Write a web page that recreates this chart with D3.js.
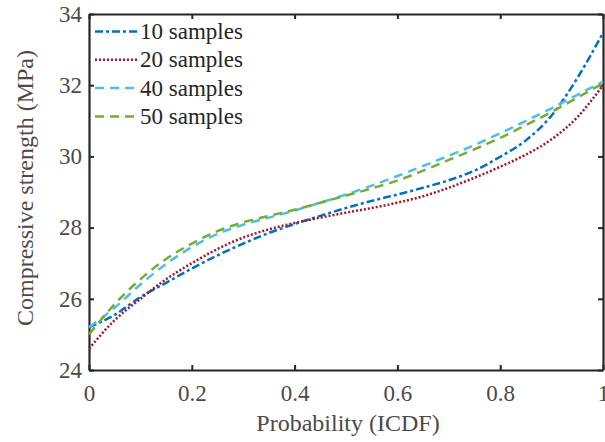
<!DOCTYPE html>
<html lang="en">
	<head>
		<meta charset="utf-8">
		<title>Compressive strength ICDF</title>
		<script src="https://cdn.jsdelivr.net/npm/d3@7/dist/d3.min.js"></script>
		<style>
			body { margin: 0; background: #fff; }
			svg text { font-family: "Liberation Serif", "Times New Roman", serif !important; }
		</style>
	</head>
	<body>
		<script type="text/javascript">

		// probability points (ICDF)
		var probs = [0, 0.05, 0.1, 0.15, 0.2, 0.25, 0.3, 0.35, 0.4, 0.45, 0.5,
			0.55, 0.6, 0.65, 0.7, 0.75, 0.8, 0.85, 0.9, 0.95, 1];

		// compressive strength values (MPa)
		var s10 = [25.2, 25.55, 26.05, 26.45, 26.85, 27.22, 27.55, 27.85, 28.1, 28.33, 28.55,
			28.75, 28.93, 29.12, 29.33, 29.6, 29.99, 30.45, 31.15, 32.2, 33.47];
		var s20 = [24.6, 25.4, 26.0, 26.55, 27.0, 27.4, 27.72, 27.95, 28.13, 28.28, 28.42,
			28.55, 28.7, 28.88, 29.12, 29.4, 29.71, 30.05, 30.48, 31.1, 32.0];
		var s40 = [25.2, 25.75, 26.4, 26.98, 27.45, 27.82, 28.08, 28.28, 28.48, 28.7, 28.93,
			29.18, 29.45, 29.73, 30.02, 30.32, 30.65, 31.0, 31.35, 31.73, 32.1];
		var s50 = [25.0, 25.85, 26.55, 27.12, 27.55, 27.9, 28.15, 28.33, 28.5, 28.7, 28.9,
			29.1, 29.32, 29.6, 29.9, 30.2, 30.52, 30.88, 31.25, 31.65, 32.05];

		var seriesNames = ["10 samples", "20 samples", "40 samples", "50 samples"];
		var xTicks = [0, 0.2, 0.4, 0.6, 0.8, 1];
		var yTicks = [24, 26, 28, 30, 32, 34];

		var w = 605, h = 442;
		var margin = {top: 14, right: 2, bottom: 72, left: 89};
		var fontName = "'Liberation Serif', 'Times New Roman', serif";

		var svg = d3.select("body")
			.append("svg")
			.attr("width", w)
			.attr("height", h);

		var x = d3.scaleLinear().domain([0, 1]).range([margin.left, w - margin.right]);
		var y = d3.scaleLinear().domain([24, 34]).range([h - margin.bottom, margin.top]);

		var axisColor = "#262626";

		//Axes (box with inward ticks)
		function styleAxis(g, labels) {
			g.attr("font-family", fontName);
			g.select(".domain").attr("stroke", axisColor).attr("stroke-width", 2.2);
			g.selectAll(".tick line").attr("stroke", axisColor).attr("stroke-width", 2);
			g.selectAll(".tick text")
				.attr("fill", "#4a4a4a")
				.style("font-family", fontName, "important")
				.style("font-size", "23px")
				.style("display", labels ? null : "none");
		}

		svg.append("g")
			.attr("transform", "translate(0," + y(24) + ")")
			.call(d3.axisBottom(x).tickValues(xTicks).tickFormat(d3.format("")).tickSizeInner(-5).tickSizeOuter(0).tickPadding(15))
			.call(function(g) { styleAxis(g, true); });

		svg.append("g")
			.attr("transform", "translate(0," + y(34) + ")")
			.call(d3.axisTop(x).tickValues(xTicks).tickSizeInner(-5).tickSizeOuter(0))
			.call(function(g) { styleAxis(g, false); });

		svg.append("g")
			.attr("transform", "translate(" + x(0) + ",0)")
			.call(d3.axisLeft(y).tickValues(yTicks).tickSizeInner(-5).tickSizeOuter(0).tickPadding(7))
			.call(function(g) { styleAxis(g, true); });

		svg.append("g")
			.attr("transform", "translate(" + x(1) + ",0)")
			.call(d3.axisRight(y).tickValues(yTicks).tickSizeInner(-5).tickSizeOuter(0))
			.call(function(g) { styleAxis(g, false); });

		// axis labels
		svg.append("text")
			.attr("x", 348)
			.attr("y", 431)
			.attr("text-anchor", "middle")
			.attr("fill", "#4a4a4a")
			.style("font-family", fontName, "important")
			.style("font-size", "24px")
			.text("Probability (ICDF)");

		svg.append("text")
			.attr("transform", "translate(33,188) rotate(-90)")
			.attr("text-anchor", "middle")
			.attr("fill", "#4a4a4a")
			.style("font-family", fontName, "important")
			.style("font-size", "24px")
			.text("Compressive strength (MPa)");

		//Lines
		var series = [
			{name: seriesNames[0], values: s10, color: "#0072BD", dash: "8,3,3,3"},
			{name: seriesNames[1], values: s20, color: "#A2142F", dash: "2,2"},
			{name: seriesNames[2], values: s40, color: "#4DBEEE", dash: "9,6"},
			{name: seriesNames[3], values: s50, color: "#77AC30", dash: "9,6"}
		];

		var line = d3.line()
			.x(function(d, i) { return x(probs[i]); })
			.y(function(d) { return y(d); })
			.curve(d3.curveMonotoneX);

		svg.append("g")
			.selectAll("path")
			.data(series)
			.enter()
			.append("path")
			.attr("d", function(d) { return line(d.values); })
			.attr("fill", "none")
			.attr("stroke", function(d) { return d.color; })
			.attr("stroke-width", 2.5)
			.attr("stroke-dasharray", function(d) { return d.dash; });

		//Legend
		var legend = svg.append("g")
			.selectAll("g")
			.data(series)
			.enter()
			.append("g")
			.attr("transform", function(d, i) { return "translate(95," + (31.5 + i * 28.3) + ")"; });

		legend.append("line")
			.attr("x1", 0)
			.attr("x2", 42)
			.attr("stroke", function(d) { return d.color; })
			.attr("stroke-width", 2.5)
			.attr("stroke-dasharray", function(d) { return d.dash; });

		legend.append("text")
			.attr("x", 45)
			.attr("y", 7.5)
			.attr("fill", "#262626")
			.style("font-family", fontName, "important")
			.style("font-size", "23px")
			.text(function(d) { return d.name; });
		</script>
	</body>
</html>
